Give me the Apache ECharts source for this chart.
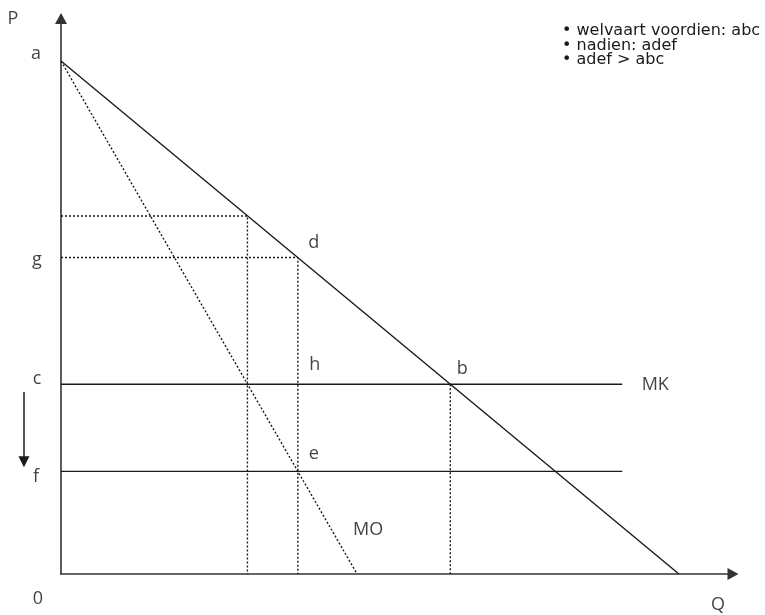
<!DOCTYPE html>
<html>
<head>
<meta charset="utf-8">
<script src="https://cdn.jsdelivr.net/npm/echarts@6/dist/echarts.min.js"></script>
<style>
html,body{margin:0;padding:0;background:#fff;}
#chart{width:765px;height:615px;}
</style>
</head>
<body>
<div id="chart"></div>
<script>
// ---- data (Q on x, P on y) ----
const demandLine = [[0, 10], [12, 0]];          // a -> Q-intercept
const moLine = [[0, 10], [5.75, 0]];            // MO (dotted)
const mkLine = [[0, 3.7], [10.9, 3.7]];         // MK at price c
const fLine = [[0, 2.0], [10.9, 2.0]];          // new cost level f
const guideA = [[0, 6.98], [3.62, 6.98], [3.62, 0]];
const guideB = [[0, 6.17], [4.6, 6.17], [4.6, 0]];
const guideC = [[7.56, 3.7], [7.56, 0]];
const shiftArrow = [[-0.72, 3.55], [-0.72, 2.19]];   // c -> f
const XMAX = 13.05, YMAX = 10.83;

const pointNames = ['P', 'a', 'g', 'c', 'f', '0', 'd', 'h', 'e', 'b', 'MO', 'MK', 'Q'];
const pointQ =     [0,   0,   0,    0,   0,   0,   4.6,  4.6, 4.6, 7.56, 5.75, 10.9, XMAX];
const pointP =     [YMAX, 10, 6.17, 3.7, 2.0, 0,   6.17, 3.7, 2.0, 3.7,  0,    3.7,  0];

const bulletLines = ['welvaart voordien: abc', 'nadien: adef', 'adef > abc'];

// ---- styling ----
const labelOffsets = {
  P: [-48, 0], a: [-25, -7], g: [-24, 2], c: [-24, -5], f: [-25, 5], '0': [-23, 25],
  d: [16, -15], h: [17, -19], e: [16, -18], b: [12, -15], MO: [11, -44], MK: [33, 1], Q: [-15, 31]
};
const FONT = 'Open Sans';
const NOTE_FONT = 'DejaVu Sans';
const INK = '#1a1a1a';

const solid = { color: INK, width: 1.4, type: 'solid' };
const dotted = { color: INK, width: 1.4, type: [2, 2] };

function lineSeries(data, style) {
  return { type: 'line', data: data, showSymbol: false, symbol: 'none', lineStyle: style, silent: true, animation: false, z: 3 };
}

const chart = echarts.init(document.getElementById('chart'), null, { renderer: 'canvas' });
const axisCommon = {
  type: 'value', min: 0,
  splitLine: { show: false }, axisTick: { show: false }, axisLabel: { show: false },
  axisLine: { show: true, onZero: false, symbol: ['none', 'triangle'], symbolSize: [12, 11], lineStyle: { color: '#333', width: 1.6 } }
};

chart.setOption({
  animation: false,
  backgroundColor: '#fff',
  title: {
    text: bulletLines.map(s => '• ' + s).join('\n'),
    left: 562, top: 24, padding: 0,
    textStyle: { fontFamily: NOTE_FONT, fontSize: 16, fontWeight: 'normal', lineHeight: 14.5, color: '#1a1a1a' }
  },
  grid: { left: 61, top: 18.5, right: 32, bottom: 41 },
  xAxis: Object.assign({}, axisCommon, { max: XMAX }),
  yAxis: Object.assign({}, axisCommon, { max: YMAX }),
  series: [
    lineSeries(demandLine, solid),
    lineSeries(moLine, dotted),
    lineSeries(mkLine, solid),
    lineSeries(fLine, solid),
    lineSeries(guideA, dotted),
    lineSeries(guideB, dotted),
    lineSeries(guideC, dotted),
    {
      type: 'lines', coordinateSystem: 'cartesian2d', clip: false, silent: true, animation: false,
      symbol: ['none', 'triangle'], symbolSize: 11,
      lineStyle: { color: INK, width: 1.5, opacity: 1 },
      data: [{ coords: shiftArrow }]
    },
    {
      type: 'scatter', symbolSize: 0, silent: true, animation: false, clip: false,
      data: pointNames.map((n, i) => ({
        name: n, value: [pointQ[i], pointP[i]],
        label: { offset: labelOffsets[n] }
      })),
      label: {
        show: true, position: 'inside', formatter: p => p.name,
        align: 'center', verticalAlign: 'middle',
        fontFamily: FONT, fontSize: 18, color: '#111'
      }
    }
  ]
});
</script>
</body>
</html>
